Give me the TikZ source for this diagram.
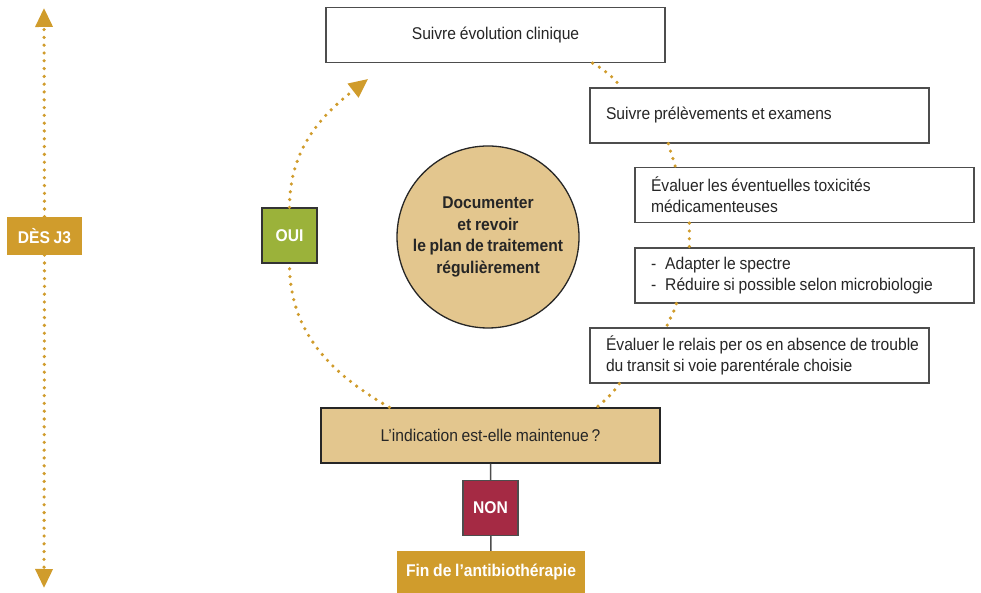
\documentclass[tikz,border=0pt]{standalone}
\usepackage{fontspec}
\setmainfont[FakeStretch=0.92, WordSpace=0.85]{Liberation Sans}
\usepackage{tikz}
\usetikzlibrary{arrows.meta, positioning, calc}

\definecolor{gold}{RGB}{208,156,44}
\definecolor{tan}{RGB}{227,198,142}
\definecolor{olive}{RGB}{155,178,58}
\definecolor{crimson}{RGB}{165,42,68}
\definecolor{frame}{RGB}{77,77,77}

\begin{document}
\begin{tikzpicture}[x=1pt, y=1pt,
	every node/.style = {font=\fontsize{17}{21}\selectfont, text=black!85},
	box/.style = {draw=frame, line width=1.3pt, fill=white, minimum width=339pt, minimum height=55pt},
	leftbox/.style = {box, text width=307pt, align=flush left, inner xsep=16pt},
	tag/.style = {draw=black!80, line width=1.3pt, minimum width=55pt, minimum height=55pt, text=white, font=\fontsize{17}{21}\selectfont\bfseries},
	dots/.style = {draw=gold, line width=3.6pt, line cap=round, dash pattern=on 0pt off 7.8pt},
	tip/.style = {-{Triangle[length=19pt, width=17pt, fill=gold]}}
	]
	\useasboundingbox (0,0) rectangle (981,593);

	\node [box] (evol) at (495.5,558) {Suivre évolution clinique};
	\node [leftbox] (prelev) at (759.5,477.5) {Suivre prélèvements et examens};
	\node [leftbox] (toxic) at (804.5,398) {Évaluer les éventuelles toxicités\\médicamenteuses};
	\node [leftbox] (spectre) at (804.5,317.5) {-\hspace{9pt}Adapter le spectre\\-\hspace{9pt}Réduire si possible selon microbiologie};
	\node [leftbox] (relais) at (759.5,237.5) {\mbox{Évaluer le relais per os en absence de trouble}\\\mbox{du transit si voie parentérale choisie}};
	\node [box, fill=tan, draw=black!85] (indic) at (490.5,157.5) {L’indication est-elle maintenue\,?};
	\node [fill=gold, minimum width=188pt, minimum height=42pt, text=white, font=\fontsize{17}{21}\selectfont\bfseries] (fin) at (491,21) {Fin de l’antibiothérapie};
	\node [circle, draw=black!85, line width=1.3pt, fill=tan, minimum size=182pt, align=center, font=\fontsize{17}{21.5}\selectfont\bfseries] (plan) at (488,356) {Documenter\\et revoir\\le plan de traitement\\régulièrement};
	\node [tag, fill=olive] (oui) at (289.5,357.5) {OUI};
	\node [fill=gold, minimum width=75pt, minimum height=38pt, text=white, font=\fontsize{17}{21}\selectfont\bfseries] (desj3) at (44.5,357) {DÈS J3};

	\coordinate (haut) at (44,585);
	\coordinate (bas) at (44,5);
	\coordinate (fleche) at (368,514);

	\draw [dots, tip] (desj3.north) -- (haut);
	\draw [dots, tip] (desj3.south) -- (bas);
	\draw [dots] ($(indic.north west)+(69,0)$) to [out=150, in=-90] (oui.south);
	\draw [dots, tip] (oui.north) to [out=90, in=218] (fleche);

	\draw [dots] ($(evol.south east)+(-73,0)$) to [out=-30, in=130] ($(prelev.north west)+(32,0)$);
	\draw [dots] ($(prelev.south west)+(79,0)$) to [out=-75, in=105] ($(toxic.north west)+(41,0)$);
	\draw [dots] ($(toxic.south west)+(55,0)$) -- ($(spectre.north west)+(55,0)$);
	\draw [dots] ($(spectre.south west)+(42,0)$) to [out=-105, in=70] ($(relais.north west)+(77,0)$);
	\draw [dots] ($(relais.south west)+(30,0)$) to [out=-125, in=40] ($(indic.north east)+(-64,0)$);

	\draw [frame, line width=1.5pt] (indic) -- (fin);
	\node [tag, fill=crimson, draw=frame] (non) at (490.5,85) {NON};
\end{tikzpicture}
\end{document}
